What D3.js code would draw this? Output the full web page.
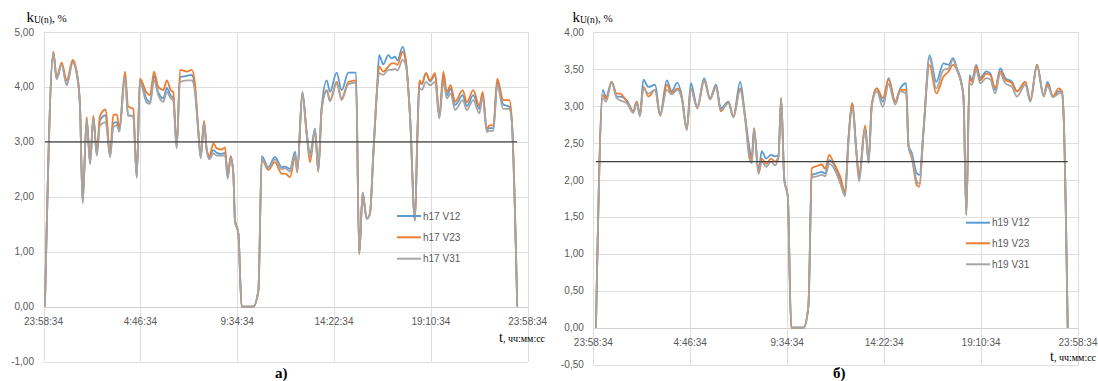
<!DOCTYPE html>
<html><head><meta charset="utf-8">
<script src="https://cdn.jsdelivr.net/npm/d3@7"></script>
<style>body{margin:0;background:#fff}svg{display:block}</style>
</head><body>
<svg id="c" width="1098" height="381"></svg>
<script>
// ---- shared axis data ----
const xTickHours = [0, 4.8, 9.6, 14.4, 19.2, 24];
const xTickLabels = ["23:58:34", "4:46:34", "9:34:34", "14:22:34", "19:10:34", "23:58:34"];
const seriesColors = ["#5B9BD5", "#ED7D31", "#A5A5A5"];

// ---- chart а): 17th harmonic (hours from 23:58:34) ----
const t17 = [0.07,0.49,0.65,0.90,1.15,1.45,1.68,1.81,1.94,2.14, 2.31,2.47,2.64,2.80,3.08,3.30,3.46,3.63,3.76,4.04,
  4.19,4.45,4.62,4.78,5.12,5.28,5.48,5.69,5.94,6.11, 6.31,6.43,6.60,6.77,7.10,7.35,7.51,7.67,7.79,7.96,
  8.09,8.22,8.42,8.59,8.83,9.00,9.13,9.28,9.41,9.49, 9.66,9.82,10.40,10.65,10.82,11.14,11.47,11.81,11.97,12.22,
  12.47,12.58,12.83,13.05,13.21,13.46,13.62,13.79,14.04,14.20, 14.53,14.78,15.11,15.49,15.65,15.82,16.02,16.18,16.35,16.52,
  16.64,16.84,17.09,17.26,17.42,17.54,17.80,17.97,18.17,18.41, 18.53,18.63,18.75,18.96,19.16,19.41,19.62,19.82,19.99,20.18,
  20.40,20.78,20.98,21.30,21.60,21.77,21.97,22.10,22.30,22.49, 22.79,23.09,23.21,23.48];
const h17V12 = [0,4.62,4.15,4.42,4.05,4.47,4.18,3.64,1.90,3.40, 2.61,3.45,2.77,3.39,3.48,2.74,3.34,3.36,3.19,4.22,
  3.48,3.47,2.36,4.12,3.77,3.72,4.20,3.90,3.79,3.98, 3.84,3.80,2.90,4.18,4.20,4.22,3.95,3.21,2.72,3.36,
  2.85,2.72,2.85,2.80,2.78,2.80,2.36,2.74,2.42,1.57, 1.33,0,0,0.29,2.74,2.54,2.72,2.54,2.55,2.51,
  2.82,2.48,3.91,3.15,2.79,3.24,2.48,3.64,4.12,3.91, 4.26,3.94,4.26,4.26,0.96,2.08,1.60,1.69,2.79,3.88,
  4.58,4.41,4.58,4.52,4.55,4.48,4.73,4.45,3.45,1.57, 3.09,4.08,4.05,4.25,4.10,4.22,3.45,4.20,3.85,3.97,
  3.67,3.85,3.65,3.85,3.60,3.86,3.21,3.25,3.25,4.09, 3.68,3.64,3.39,0];
const h17V23 = [0,4.64,4.17,4.44,4.12,4.49,4.20,3.66,1.92,3.45, 2.63,3.47,2.80,3.47,3.59,2.76,3.49,3.50,3.27,4.28,
  3.65,3.60,2.38,4.15,3.89,3.85,4.28,4.00,3.94,4.12, 3.94,3.91,2.91,4.31,4.28,4.31,4.05,3.23,2.74,3.38,
  2.87,2.74,2.97,2.88,2.86,2.90,2.38,2.72,2.42,1.57, 1.33,0,0,0.29,2.68,2.49,2.63,2.42,2.42,2.36,
  2.72,2.44,3.89,3.13,2.63,3.20,2.46,3.60,3.94,3.76, 4.09,3.79,4.09,4.12,0.96,2.06,1.60,1.69,2.79,3.88,
  4.37,4.28,4.37,4.43,4.43,4.40,4.64,4.43,3.45,1.57, 3.09,4.12,4.06,4.25,4.12,4.25,3.47,4.28,3.91,4.03,
  3.73,3.94,3.72,3.94,3.66,3.91,3.23,3.30,3.30,4.15, 3.76,3.76,3.41,0];
const h17V31 = [0,4.62,4.14,4.40,4.03,4.44,4.16,3.62,1.88,3.40, 2.59,3.43,2.75,3.30,3.36,2.72,3.27,3.30,3.19,4.18,
  3.48,3.47,2.34,4.09,3.71,3.69,4.12,3.85,3.73,3.91, 3.79,3.76,2.88,4.09,4.12,4.12,3.90,3.20,2.70,3.34,
  2.83,2.68,2.79,2.75,2.75,2.75,2.33,2.70,2.42,1.57, 1.33,0,0,0.29,2.70,2.52,2.68,2.50,2.52,2.46,
  2.78,2.46,3.88,3.12,2.72,3.22,2.46,3.60,3.92,3.74, 4.06,3.76,4.05,4.08,0.96,2.05,1.60,1.69,2.79,3.88,
  4.25,4.22,4.31,4.31,4.33,4.30,4.49,4.38,3.45,1.57, 3.09,3.97,3.95,4.09,4.03,4.09,3.43,4.09,3.79,3.88,
  3.58,3.76,3.58,3.76,3.52,3.82,3.18,3.20,3.20,4.03, 3.60,3.60,3.37,0];
const names17 = ["h17 V12", "h17 V23", "h17 V31"];
const yTicks17 = [-1, 0, 1, 2, 3, 4, 5];
const limit17 = 3.0;

// ---- chart б): 19th harmonic ----
const t19 = [0.13,0.47,0.63,0.91,1.16,1.32,1.66,1.98,2.15,2.31, 2.48,2.73,3.06,3.31,3.64,3.88,4.16,4.38,4.63,4.83,
  5.15,5.49,5.78,6.08,6.31,6.69,6.94,7.27,7.52,7.73, 7.85,7.96,8.18,8.34,8.56,8.80,9.00,9.17,9.30,9.46,
  9.63,9.80,10.41,10.65,10.82,11.07,11.32,11.48,11.68,11.89, 12.22,12.47,12.63,12.83,13.02,13.16,13.46,13.63,13.79,14.04,
  14.34,14.62,14.95,15.20,15.49,15.61,15.78,16.02,16.15,16.35, 16.65,16.98,17.34,17.59,17.81,18.01,18.25,18.33,18.47,18.63,
  18.75,18.96,19.16,19.46,19.66,19.90,20.15,20.40,20.73,20.98, 21.39,21.64,21.97,22.30,22.49,22.76,23.04,23.21,23.29,23.49];
const h19V12 = [0,3.22,3.12,3.33,3.13,3.13,3.08,2.93,3.06,2.88, 3.36,3.26,3.29,2.89,3.35,3.20,3.32,3.14,2.70,3.31,
  2.99,3.38,3.11,3.29,2.97,3.06,2.86,3.33,2.86,2.43, 2.30,2.70,2.12,2.39,2.29,2.34,2.32,2.34,3.11,2.00,
  1.78,0,0,0.29,2.07,2.09,2.11,2.09,2.27,2.22, 2.02,1.82,2.54,3.04,2.41,2.03,2.72,2.25,3.02,3.24,
  3.06,3.38,3.06,3.24,3.31,2.47,2.36,2.09,2.07,2.68, 3.69,3.33,3.58,3.56,3.65,3.51,3.29,3.13,1.53,3.42,
  3.35,3.56,3.38,3.47,3.44,3.22,3.51,3.38,3.33,3.20, 3.33,3.08,3.56,3.15,3.33,3.13,3.20,3.20,2.86,0];
const h19V23 = [0,3.15,3.10,3.33,3.17,3.17,3.06,2.93,3.06,2.88, 3.26,3.13,3.22,2.87,3.29,3.18,3.24,3.12,2.68,3.24,
  2.97,3.34,3.10,3.27,2.93,3.05,2.86,3.24,2.84,2.36, 2.27,2.70,2.10,2.29,2.22,2.29,2.25,2.32,3.11,2.00,
  1.78,0,0,0.29,2.16,2.19,2.21,2.15,2.34,2.24, 2.05,1.84,2.54,3.04,2.41,2.08,2.74,2.27,3.02,3.24,
  3.11,3.36,3.06,3.22,3.22,2.45,2.29,1.93,1.91,2.66, 3.56,3.17,3.40,3.47,3.56,3.49,3.27,3.12,1.53,3.38,
  3.33,3.54,3.35,3.44,3.42,3.25,3.47,3.36,3.31,3.20, 3.33,3.08,3.56,3.13,3.30,3.13,3.24,3.20,2.86,0];
const h19V31 = [0,3.11,3.06,3.32,3.11,3.08,3.04,2.91,3.04,2.86, 3.24,3.17,3.22,2.88,3.22,3.16,3.22,3.10,2.68,3.24,
  2.98,3.36,3.09,3.26,2.95,3.04,2.85,3.22,2.82,2.29, 2.23,2.68,2.08,2.25,2.18,2.25,2.20,2.30,3.11,2.00,
  1.78,0,0,0.29,2.03,2.05,2.07,2.05,2.22,2.17, 1.96,1.78,2.50,2.98,2.39,1.98,2.70,2.23,3.00,3.20,
  2.99,3.30,3.02,3.20,3.17,2.45,2.32,1.98,1.95,2.66, 3.65,3.24,3.49,3.51,3.63,3.49,3.27,3.12,1.53,3.31,
  3.29,3.49,3.31,3.38,3.36,3.17,3.44,3.31,3.26,3.13, 3.29,3.06,3.54,3.14,3.27,3.12,3.17,3.18,2.86,0];
const names19 = ["h19 V12", "h19 V23", "h19 V31"];
const yTicks19 = [-0.5, 0, 0.5, 1, 1.5, 2, 2.5, 3, 3.5, 4];
const limit19 = 2.25;

const svg = d3.select("#c");
const fmt = v => d3.format(".2f")(v).replace(".", ",").replace("−", "-");

function drawChart(cfg) {
  const g = svg.append("g");
  const x = d3.scaleLinear().domain([0, 24]).range([cfg.left, cfg.right]);
  const y = d3.scaleLinear().domain(d3.extent(cfg.yTicks)).range([cfg.bottom, cfg.top]);

  // grid
  g.selectAll(".hg").data(cfg.yTicks).join("line")
    .attr("x1", cfg.left).attr("x2", cfg.right)
    .attr("y1", d => Math.round(y(d)) + 0.5).attr("y2", d => Math.round(y(d)) + 0.5)
    .attr("stroke", d => d === 0 ? "#CFCFCF" : "#DEDEDE").attr("stroke-width", 1);
  g.selectAll(".vg").data(xTickHours).join("line")
    .attr("x1", d => Math.round(x(d)) + 0.5).attr("x2", d => Math.round(x(d)) + 0.5)
    .attr("y1", cfg.top).attr("y2", cfg.bottom)
    .attr("stroke", "#DEDEDE").attr("stroke-width", 1);

  // y tick labels
  g.selectAll(".yl").data(cfg.yTicks).join("text")
    .attr("x", cfg.left - 9.5).attr("y", d => y(d)).attr("dy", "0.35em")
    .attr("text-anchor", "end")
    .attr("font-family", "Liberation Sans, Arial, sans-serif").attr("font-size", 10)
    .attr("fill", "#595959").text(d => fmt(d));

  // x tick labels (next to zero line)
  g.selectAll(".xl").data(xTickHours).join("text")
    .attr("x", d => x(d)).attr("y", y(0) + 18.5)
    .attr("text-anchor", "middle")
    .attr("font-family", "Liberation Sans, Arial, sans-serif").attr("font-size", 10)
    .attr("fill", "#595959").text((d, i) => xTickLabels[i]);

  // series
  const line = d3.line().x(d => x(d[0])).y(d => y(d[1])).curve(d3.curveMonotoneX);
  cfg.series.forEach((s, i) => {
    const pts = cfg.t.map((t, j) => [t, s[j]]);
    g.append("path").attr("d", line(pts)).attr("fill", "none")
      .attr("stroke", seriesColors[i]).attr("stroke-width", 1.8)
      .attr("stroke-linejoin", "round");
  });

  // limit line
  g.append("line")
    .attr("x1", x(cfg.t[0])).attr("x2", x(cfg.t[cfg.t.length - 1]))
    .attr("y1", y(cfg.limit)).attr("y2", y(cfg.limit))
    .attr("stroke", "#404040").attr("stroke-width", 1.3);

  // legend
  cfg.names.forEach((n, i) => {
    const ly = cfg.legendY[i];
    g.append("line").attr("x1", cfg.legendX).attr("x2", cfg.legendX + 24)
      .attr("y1", ly).attr("y2", ly).attr("stroke", seriesColors[i]).attr("stroke-width", 2);
    g.append("text").attr("x", cfg.legendX + 26).attr("y", ly).attr("dy", "0.35em")
      .attr("font-family", "Liberation Sans, Arial, sans-serif").attr("font-size", 10)
      .attr("fill", "#595959").text(n);
  });

  // y-axis title  kU(n), %
  const yt = g.append("text").attr("x", cfg.yTitleX).attr("y", 21.5)
    .attr("font-family", "Liberation Serif, Times New Roman, serif").attr("fill", "#000");
  yt.append("tspan").attr("font-size", 15).text("k");
  yt.append("tspan").attr("font-size", 9.5).attr("dy", 1).text("U(n)");
  yt.append("tspan").attr("font-size", 11).attr("dy", -1).text(", %");

  // x-axis title  t, чч:мм:сс
  const xt = g.append("text").attr("x", cfg.xTitleX).attr("y", cfg.xTitleY)
    .attr("font-family", "Liberation Serif, Times New Roman, serif").attr("fill", "#000");
  xt.append("tspan").attr("font-size", 14).text("t");
  xt.append("tspan").attr("font-size", 10).text(", чч:мм:сс");

  // panel label
  g.append("text").attr("x", cfg.panelX).attr("y", 378)
    .attr("font-family", "Liberation Serif, Times New Roman, serif")
    .attr("font-weight", "bold").attr("font-size", 15).text(cfg.panel);
}

drawChart({
  left: 43.5, right: 527.7, top: 32, bottom: 361.5,
  yTicks: yTicks17, t: t17, series: [h17V12, h17V23, h17V31], names: names17, limit: limit17,
  legendX: 397, legendY: [216, 237.3, 258.7],
  yTitleX: 26.5, xTitleX: 499, xTitleY: 342, panelX: 275, panel: "а)"
});
drawChart({
  left: 593.3, right: 1078, top: 32.3, bottom: 364.7,
  yTicks: yTicks19, t: t19, series: [h19V12, h19V23, h19V31], names: names19, limit: limit19,
  legendX: 966, legendY: [222.7, 243.3, 264.3],
  yTitleX: 572.5, xTitleX: 1050, xTitleY: 361, panelX: 833, panel: "б)"
});
</script>
</body></html>
